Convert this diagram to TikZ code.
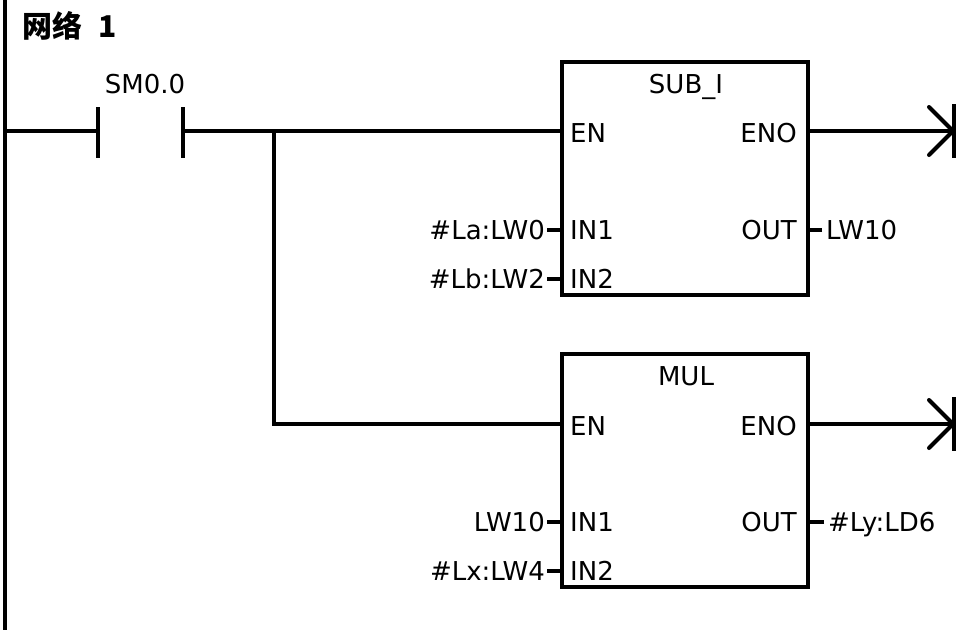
\documentclass[tikz,border=0pt]{standalone}
\usepackage{fontspec}
\setmainfont{DejaVu Sans}
\newfontfamily\cjk{Noto Sans CJK SC}
\begin{document}
\begin{tikzpicture}[x=1pt,y=-1pt,
  wire/.style={line width=4pt,line cap=rect},
  fbox/.style={draw,line width=4pt,minimum width=246pt,minimum height=233pt,inner sep=0pt},
  lbl/.style={font=\fontsize{26}{26}\selectfont,inner sep=0pt,text height=19pt,text depth=0pt},
  pinw/.style={lbl,anchor=west},
  pine/.style={lbl,anchor=east},
  coilend/.style={line width=4pt,line cap=round,line join=miter}]
\useasboundingbox (0,0) rectangle (958,630);
% left power rail
\coordinate (railtop) at (5,0);
\coordinate (railbot) at (5,630);
\draw[line width=4pt] (railtop) -- (railbot);
% title
\node[anchor=west,inner sep=0pt,font={\cjk\bfseries\fontsize{30}{30}\selectfont}] (title) at (22,26) {网络 \hspace{9pt}1};
% contact SM0.0
\coordinate (r1) at (5,131);
\coordinate (cl) at (98,131);
\coordinate (cr) at (183,131);
\coordinate (br) at (274,131);
\draw[wire] (r1) -- (cl);
\draw[line width=4.5pt] (98,107) -- (98,158);
\draw[line width=4.5pt] (183,107) -- (183,158);
\node[lbl,anchor=center] (sm) at (145,84) {SM0.0};
% boxes
\node[fbox] (sub) at (685,178.5) {};
\node[fbox] (mul) at (685,470) {};
\node[lbl] (subt) at (686,84) {SUB\_I};
\node[lbl] (mult) at (686,376) {MUL};
% EN wiring
\coordinate (en1) at (562,131);
\coordinate (en2) at (562,424);
\draw[wire] (cr) -- (en1);
\draw[wire] (br) |- (en2);
% pin names, box 1
\node[pinw] (sen) at (570,133) {EN};
\node[pine] (seno) at (797,133) {ENO};
\node[pinw] (sin1) at (570,230) {IN1};
\node[pinw] (sin2) at (570,279) {IN2};
\node[pine] (sout) at (797,230) {OUT};
% pin names, box 2
\node[pinw] (men) at (570,426) {EN};
\node[pine] (meno) at (797,426) {ENO};
\node[pinw] (min1) at (570,522) {IN1};
\node[pinw] (min2) at (570,571) {IN2};
\node[pine] (mout) at (797,522) {OUT};
% operands, box 1
\node[pine] (a1) at (545,230) {\#La:LW0};
\node[pine] (a2) at (545,279) {\#Lb:LW2};
\node[pinw] (a3) at (826,230) {LW10};
\draw[wire,line cap=butt] (a1.east) ++(2,0) coordinate (a1s) -- (a1s -| sub.west);
\draw[wire,line cap=butt] (a2.east) ++(2,0) coordinate (a2s) -- (a2s -| sub.west);
\draw[wire,line cap=butt] (a3.west) ++(-4,0) coordinate (a3s) -- (a3s -| sub.east);
% operands, box 2
\node[pine] (b1) at (545,522) {LW10};
\node[pine] (b2) at (545,571) {\#Lx:LW4};
\node[pinw] (b3) at (828,522) {\#Ly:LD6};
\draw[wire,line cap=butt] (b1.east) ++(2,0) coordinate (b1s) -- (b1s -| mul.west);
\draw[wire,line cap=butt] (b2.east) ++(2,0) coordinate (b2s) -- (b2s -| mul.west);
\draw[wire,line cap=butt] (b3.west) ++(-4,0) coordinate (b3s) -- (b3s -| mul.east);
% ENO outputs with end symbols
\coordinate (o1) at (808,131);
\coordinate (e1) at (953,131);
\coordinate (o2) at (808,424);
\coordinate (e2) at (953,424);
\draw[wire] (o1) -- (e1);
\draw[wire] (o2) -- (e2);
\draw[coilend] (929,107) -- (e1) -- (929,155);
\draw[coilend] (929,400) -- (e2) -- (929,448);
\draw[line width=4pt] (954,104) -- (954,158);
\draw[line width=4pt] (954,397) -- (954,451);
\end{tikzpicture}
\end{document}
